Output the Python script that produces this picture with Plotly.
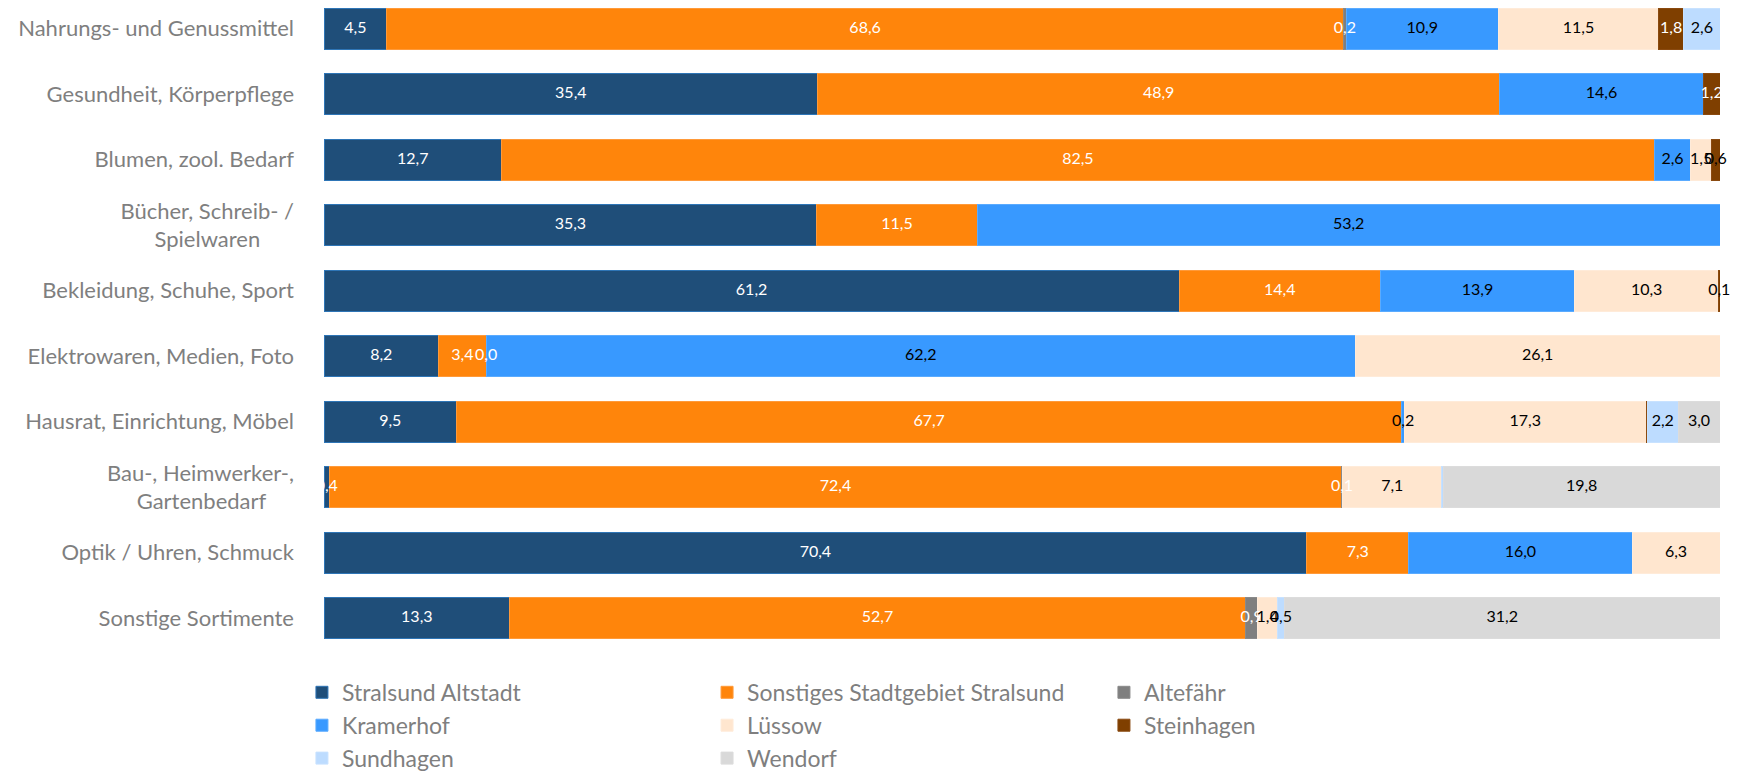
import plotly.graph_objects as go

NB = "\u00a0"
categories = [
    "Nahrungs- und Genussmittel",
    "Gesundheit, Körperpflege",
    "Blumen, zool. Bedarf",
    "Bücher, Schreib- /<br>Spielwaren" + NB * 6,
    "Bekleidung, Schuhe, Sport",
    "Elektrowaren, Medien, Foto",
    "Hausrat, Einrichtung, Möbel",
    "Bau-, Heimwerker-,<br>Gartenbedarf" + NB * 5,
    "Optik / Uhren, Schmuck",
    "Sonstige Sortimente",
]

series_names = [
    "Stralsund Altstadt",
    "Sonstiges Stadtgebiet Stralsund",
    "Altefähr",
    "Kramerhof",
    "Lüssow",
    "Steinhagen",
    "Sundhagen",
    "Wendorf",
]

stralsund_altstadt = [4.5, 35.4, 12.7, 35.3, 61.2, 8.2, 9.5, 0.4, 70.4, 13.3]
sonstiges_stadtgebiet = [68.6, 48.9, 82.5, 11.5, 14.4, 3.4, 67.7, 72.4, 7.3, 52.7]
altefaehr = [0.2, None, None, None, None, 0.0, None, 0.1, None, 0.9]
kramerhof = [10.9, 14.6, 2.6, 53.2, 13.9, 62.2, 0.2, None, 16.0, None]
luessow = [11.5, None, 1.5, None, 10.3, 26.1, 17.3, 7.1, 6.3, 1.4]
steinhagen = [1.8, 1.2, 0.6, None, 0.1, None, 0.1, None, None, None]
sundhagen = [2.6, None, None, None, None, None, 2.2, 0.1, None, 0.5]
wendorf = [None, None, None, None, None, None, 3.0, 19.8, None, 31.2]

series_values = [stralsund_altstadt, sonstiges_stadtgebiet, altefaehr, kramerhof,
                 luessow, steinhagen, sundhagen, wendorf]

# (series index, category index) whose label is not displayed
hidden_labels = {(5, 6), (6, 7)}

fill_colors = ["#1F4E79", "#FF850B", "#7F7F7F", "#3899FF", "#FFE6CF", "#7F3F00", "#BDDCFF", "#D9D9D9"]
line_colors = ["#2E75B6", "#FF9A3A", "#8A8A8A", "#5AABFF", "#FFEBD9", "#8A4A10", "#C8E2FF", "#DCDCDC"]
label_colors = ["white", "white", "white", "black", "black", "white", "black", "black"]
steinhagen_label_colors = ["white", "white", "black", "black", "black", "black", "black", "black", "black", "black"]

# legend column of each series (3 columns, filled row by row)
legend_ids = ["legend", "legend2", "legend3", "legend", "legend2", "legend3", "legend", "legend2"]

fig = go.Figure()
for si, (name, vals) in enumerate(zip(series_names, series_values)):
    xs = [0 if v is None else v for v in vals]
    fig.add_trace(go.Bar(
        name=name,
        y=categories,
        x=xs,
        orientation="h",
        marker=dict(color=fill_colors[si], line=dict(color=line_colors[si], width=1)),
        hoverinfo="skip",
        legend=legend_ids[si],
    ))

# data labels on top of all bars, centred in each (percent-normalised) segment
lx, ly, lt, lc = [], [], [], []
for ci, cat in enumerate(categories):
    total = sum(s[ci] for s in series_values if s[ci] is not None)
    left = 0.0
    for si, vals in enumerate(series_values):
        v = vals[ci]
        if v is None:
            continue
        if (si, ci) not in hidden_labels:
            lx.append((left + v / 2) / total * 100)
            ly.append(cat)
            lt.append(f"{v:.1f}".replace(".", ","))
            lc.append(steinhagen_label_colors[ci] if si == 5 else label_colors[si])
        left += v

fig.add_trace(go.Scatter(
    x=lx, y=ly, text=lt, mode="text",
    textposition="middle center",
    textfont=dict(family="Lato", size=16, color=lc),
    showlegend=False, hoverinfo="skip", cliponaxis=False,
))

legend_style = dict(
    orientation="v",
    traceorder="normal",
    xanchor="left",
    y=-0.012,
    yanchor="top",
    font=dict(family="Lato", size=23, color="#7F7F7F"),
    itemwidth=30,
    tracegroupgap=0,
    bgcolor="rgba(0,0,0,0)",
)

fig.update_layout(
    width=1740,
    height=772,
    barmode="stack",
    barnorm="percent",
    bargap=0.374,
    plot_bgcolor="white",
    paper_bgcolor="white",
    margin=dict(l=316, r=28, t=0, b=112, pad=0),
    font=dict(family="Lato", size=22, color="#7F7F7F"),
    xaxis=dict(visible=False, range=[0, 100]),
    yaxis=dict(
        type="category",
        categoryorder="array",
        categoryarray=categories,
        range=[9.684, -0.316],
        ticks="",
        showline=False,
        showgrid=False,
        ticklabelstandoff=29,
        tickfont=dict(family="Lato", size=22, color="#7F7F7F"),
    ),
    legend=dict(x=-0.0158, **legend_style),
    legend2=dict(x=0.2744, **legend_style),
    legend3=dict(x=0.5587, **legend_style),
    showlegend=True,
)

fig.write_html("out.html")
